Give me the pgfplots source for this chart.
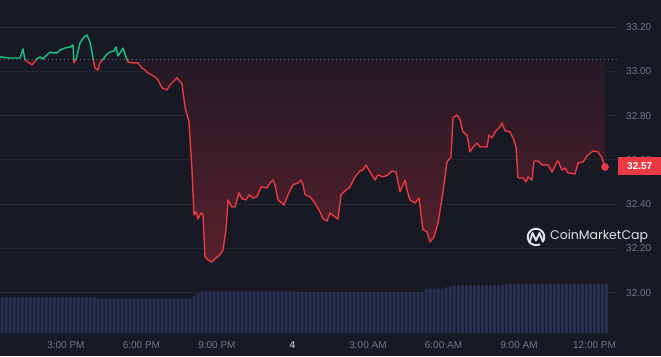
\documentclass[border=0pt]{standalone}
\usepackage{pgfplots}
\usepackage{pgfplotstable}
\pgfplotsset{compat=1.18}
\usetikzlibrary{backgrounds}
\usepackage{fontspec}
\setmainfont{Liberation Sans}
\newfontfamily\wmfont{Poppins}
\definecolor{bg}{RGB}{23,25,36}
\definecolor{gridc}{RGB}{36,39,51}
\definecolor{tickc}{RGB}{112,118,133}
\definecolor{upc}{RGB}{22,199,132}
\definecolor{downc}{RGB}{234,57,67}
\definecolor{volc}{RGB}{42,48,84}
\definecolor{filltop}{RGB}{30,25,36}
\definecolor{fillbot}{RGB}{88,32,45}
\definecolor{basec}{RGB}{95,100,115}
\definecolor{wmc}{RGB}{226,228,233}

\pgfplotstableread{
h p
12.380 33.065
12.777 33.060
13.175 33.060
13.294 33.101
13.373 33.051
13.651 33.029
13.850 33.056
13.969 33.065
14.088 33.056
14.247 33.074
14.367 33.087
14.486 33.083
14.645 33.083
14.764 33.096
14.962 33.105
15.161 33.110
15.280 33.119
15.320 33.038
15.399 33.051
15.558 33.128
15.717 33.155
15.837 33.164
15.956 33.132
16.075 33.060
16.154 33.015
16.274 33.006
16.353 33.038
16.512 33.060
16.631 33.078
16.750 33.087
16.909 33.092
16.989 33.110
17.068 33.069
17.148 33.083
17.267 33.105
17.386 33.065
17.465 33.042
17.664 33.038
17.863 33.038
18.022 33.015
18.141 33.006
18.260 32.992
18.419 32.983
18.538 32.974
18.657 32.961
18.816 32.925
19.015 32.916
19.134 32.938
19.412 32.970
19.611 32.943
19.730 32.839
19.889 32.771
20.008 32.554
20.088 32.351
20.167 32.365
20.247 32.333
20.366 32.360
20.445 32.351
20.525 32.162
20.644 32.148
20.803 32.139
20.922 32.153
21.121 32.171
21.240 32.193
21.359 32.284
21.438 32.419
21.597 32.387
21.717 32.387
21.875 32.451
21.995 32.424
22.154 32.419
22.273 32.442
22.432 32.428
22.591 32.433
22.750 32.478
22.988 32.473
23.107 32.496
23.226 32.509
23.306 32.487
23.425 32.419
23.584 32.405
23.663 32.396
23.822 32.442
24.021 32.487
24.220 32.496
24.339 32.509
24.418 32.487
24.498 32.442
24.696 32.433
24.895 32.405
25.094 32.365
25.213 32.333
25.372 32.324
25.491 32.360
25.690 32.342
25.809 32.333
25.928 32.442
26.087 32.460
26.286 32.478
26.484 32.523
26.683 32.550
26.802 32.554
26.921 32.577
27.080 32.545
27.279 32.509
27.398 32.532
27.597 32.523
27.795 32.532
27.954 32.550
28.113 32.545
28.272 32.455
28.471 32.509
28.550 32.464
28.669 32.419
28.868 32.405
29.027 32.428
29.186 32.284
29.345 32.275
29.464 32.229
29.623 32.252
29.782 32.315
29.980 32.455
30.139 32.591
30.298 32.613
30.378 32.789
30.537 32.803
30.656 32.780
30.775 32.726
30.934 32.712
31.053 32.636
31.172 32.658
31.331 32.676
31.450 32.658
31.729 32.658
31.808 32.712
31.927 32.699
32.046 32.726
32.245 32.749
32.324 32.767
32.444 32.731
32.642 32.726
32.761 32.699
32.881 32.658
32.960 32.518
33.159 32.518
33.278 32.500
33.357 32.523
33.516 32.509
33.596 32.595
33.755 32.595
33.914 32.577
34.152 32.577
34.311 32.545
34.510 32.591
34.549 32.595
34.708 32.554
34.827 32.563
34.947 32.541
35.225 32.536
35.344 32.586
35.543 32.591
35.741 32.622
35.940 32.640
36.139 32.636
36.297 32.609
36.417 32.568
}\pricedata

\pgfplotstableread{
h v
12.460 35.5
12.619 35.5
12.778 35.5
12.937 35.5
13.096 35.5
13.255 35.5
13.414 35.5
13.573 35.5
13.732 35.5
13.891 35.5
14.050 35.5
14.209 35.5
14.368 35.5
14.527 35.5
14.686 35.5
14.845 35.5
15.004 35.5
15.163 35.5
15.322 35.5
15.481 35.5
15.640 35.5
15.799 35.5
15.958 35.5
16.117 35.5
16.276 34.3
16.435 34.3
16.594 34.3
16.753 34.3
16.912 34.3
17.071 34.3
17.230 34.3
17.389 34.3
17.548 34.3
17.707 34.3
17.866 34.3
18.025 34.3
18.184 34.3
18.343 34.3
18.502 34.3
18.661 34.3
18.820 34.3
18.979 34.3
19.138 34.3
19.297 34.3
19.456 34.3
19.615 34.3
19.774 34.3
19.933 34.3
20.092 36.5
20.251 39.5
20.410 41.3
20.569 41.3
20.728 41.3
20.887 41.3
21.046 41.3
21.205 41.3
21.364 41.3
21.523 41.3
21.682 41.3
21.841 41.3
22.000 41.3
22.159 41.3
22.318 41.3
22.477 41.3
22.636 41.3
22.795 41.3
22.954 41.3
23.113 41.3
23.272 41.3
23.431 41.3
23.590 41.3
23.749 41.3
23.908 41.3
24.067 41.3
24.226 41.3
24.385 41.0
24.544 41.0
24.703 41.0
24.862 41.0
25.021 41.0
25.180 41.0
25.339 41.0
25.498 41.0
25.657 41.0
25.816 41.0
25.975 41.0
26.134 41.0
26.293 41.0
26.452 41.0
26.611 41.0
26.770 41.0
26.929 41.0
27.088 41.0
27.247 41.0
27.406 41.0
27.565 41.0
27.724 41.0
27.883 41.0
28.042 41.0
28.201 41.0
28.360 41.0
28.519 41.0
28.678 41.0
28.837 41.0
28.996 41.0
29.155 41.0
29.314 44.3
29.473 44.3
29.632 44.3
29.791 44.3
29.950 44.3
30.109 45.5
30.268 46.5
30.427 47.5
30.586 47.5
30.745 47.5
30.904 47.5
31.063 47.5
31.222 47.5
31.381 47.5
31.540 47.5
31.699 47.5
31.858 47.5
32.017 47.5
32.176 47.5
32.335 48.3
32.494 49.0
32.653 49.0
32.812 49.0
32.971 49.0
33.130 49.0
33.289 49.0
33.448 49.0
33.607 49.0
33.766 49.0
33.925 49.0
34.084 49.0
34.243 49.0
34.402 49.0
34.561 49.0
34.720 49.0
34.879 49.0
35.038 49.0
35.197 49.0
35.356 49.0
35.515 49.0
35.674 49.0
35.833 49.0
35.992 49.0
36.151 49.0
36.310 49.0
36.469 49.0
}\voldata

\begin{document}
\begin{tikzpicture}[x=1pt,y=1pt]
\begin{axis}[
  name=main,
  at={(0,0)}, anchor=south west,
  width=618pt, height=333pt, scale only axis,
  xmin=12.38, xmax=36.933, ymin=31.818, ymax=33.322,
  axis line style={draw=none},
  major tick length=0pt,
  ytick={32,32.2,32.4,32.6,32.8,33,33.2},
  yticklabels={32.00,32.20,32.40,32.60,32.80,33.00,33.20},
  yticklabel pos=right,
  ymajorgrids, grid style={gridc, line width=0.8pt},
  xtick={15,18,21,24,27,30,33,36},
  xticklabels={3:00 PM,6:00 PM,9:00 PM,{\bfseries\color{tickc!60!white}4},3:00 AM,6:00 AM,9:00 AM,12:00 PM},
  tick label style={font=\fontsize{10}{12}\selectfont, text=tickc},
  yticklabel style={anchor=west, inner sep=0pt, xshift=8pt},
  xticklabel style={anchor=center, inner sep=0pt, yshift=-12pt},
  clip mode=individual,
]
\coordinate (sw) at (rel axis cs:0,0);
\begin{scope}
\clip (axis cs:12,31.7) rectangle (axis cs:37,33.0555);
\addplot[draw=none, top color=filltop, bottom color=fillbot] table[x=h,y=p]{\pricedata}
  -- (axis cs:36.417,33.0555) -- (axis cs:12.38,33.0555) -- cycle;
\end{scope}
\draw[basec, line width=0.9pt, dash pattern=on 1pt off 3pt] (axis cs:12.38,33.0555) -- (axis cs:36.933,33.0555);
\begin{scope}
\clip (axis cs:12,31.7) rectangle (axis cs:37,33.0555);
\addplot[downc, line width=1.4pt, line join=round, mark=none] table[x=h,y=p]{\pricedata};
\end{scope}
\begin{scope}
\clip (axis cs:12,33.0555) rectangle (axis cs:37,33.5);
\addplot[upc, line width=1.4pt, line join=round, mark=none] table[x=h,y=p]{\pricedata};
\end{scope}
\addplot[only marks, mark=*, mark size=3.6pt, downc] coordinates {(36.417,32.568)};
\node[fill=downc, text=white, font=\bfseries\fontsize{10}{12}\selectfont, minimum width=43pt, minimum height=18pt, inner sep=0pt, anchor=west] at (axis cs:36.933,32.57) {32.57};
\end{axis}

\begin{axis}[
  at={(sw)}, anchor=south west,
  width=618pt, height=333pt, scale only axis,
  xmin=12.38, xmax=36.933, ymin=0, ymax=333,
  hide axis, ybar, bar width=3pt,
]
\addplot[fill=volc, draw=none] table[x=h,y=v]{\voldata};
\end{axis}

\begin{scope}[shift={(sw)}]
% watermark
\draw[wmc, line width=1.9pt, line cap=round] (536,96) ++(-35:8.3) arc[start angle=-35, end angle=295, radius=8.3];
\draw[wmc, line width=1.9pt, line cap=round, line join=round] (529.5,90.5) -- (532.5,100) -- (536,92.5) -- (539.5,100) -- (542.8,91.5);
\node[anchor=west, inner sep=0pt, text=wmc, font=\wmfont\fontsize{12.5}{14}\selectfont] at (550,96.5) {CoinMarketCap};
\end{scope}

\begin{scope}[on background layer, shift={(sw)}]
\fill[bg] (0,-23) rectangle (661,333);
\end{scope}
\pgfresetboundingbox
\path[use as bounding box, shift={(sw)}] (0,-23) rectangle (661,333);
\end{tikzpicture}
\end{document}
